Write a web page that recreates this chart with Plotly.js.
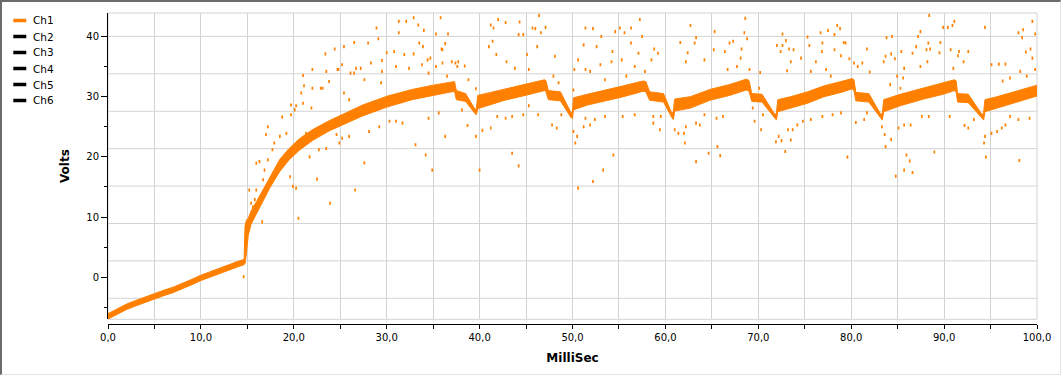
<!DOCTYPE html>
<html>
<head>
<meta charset="utf-8">
<script src="https://cdn.plot.ly/plotly-3.0.1.min.js"></script>
<style>
html,body{margin:0;padding:0;background:#fff;}
#wrap{position:relative;width:1063px;height:377px;overflow:hidden;}
#chart{width:1063px;height:377px;}
#frame{position:absolute;left:0;top:0;width:1061px;height:375px;box-sizing:border-box;
  border-top:2px solid #6b6b6b;border-left:2px solid #6b6b6b;
  border-right:1px solid #e2e2e2;border-bottom:1px solid #e2e2e2;pointer-events:none;}
</style>
</head>
<body>
<div id="wrap"><div id="chart"></div><div id="frame"></div></div>
<script>
// ---- legend entries ----
const channels = ['Ch1', 'Ch2', 'Ch3', 'Ch4', 'Ch5', 'Ch6'];

// ---- axis ticks ----
const xTicks = [0, 10, 20, 30, 40, 50, 60, 70, 80, 90, 100];
const yTicks = [0, 10, 20, 30, 40];

// ---- Ch1 dense trace: lower / upper envelope of the sample band (ms, Volts) ----
const bandMs = [0, 1, 2, 3, 4, 5, 6, 7, 8, 9, 10, 11, 12, 13, 14, 14.6, 14.65, 14.75, 14.9, 15.1, 15.4, 16.0, 16.7, 17.4, 18.5, 19.5, 20.6, 22.0, 23.8, 25.6, 27.4, 30.1, 32.75, 35.0, 37.0, 37.3,
  37.5, 38.5, 39.5, 39.65, 39.8, 40.9, 42.7, 44.9, 47.0, 47.15,
  47.4, 48.7, 49.85, 50.0, 50.1, 51.6, 53.4, 55.5, 57.6, 57.9,
  58.3, 59.8, 60.7, 60.85, 61.0, 62.7, 64.8, 66.9, 68.7, 69.0,
  69.3, 70.4, 71.8, 71.95, 72.1, 73.5, 75.3, 77.1, 78.9, 80.1, 80.3,
  80.5, 81.9, 83.2, 83.35, 83.5, 85.3, 87.8, 89.9, 91.1, 91.3,
  91.45, 92.6, 94.1, 94.25, 94.4, 95.5, 97.6, 100.0];
const bandLow = [-6.95, -6.15, -5.35, -4.75, -4.15, -3.65, -3.05, -2.55, -1.95, -1.25, -0.55, 0.05, 0.65, 1.15, 1.75, 2.05, 2.1, 2.3, 4.0, 7.0, 8.8, 10.6, 12.7, 14.8, 17.6, 19.5, 21.1, 22.7, 24.3, 25.5, 26.8, 28.3, 29.5, 30.2, 30.9, 30.9,
  29.5, 29.2, 27.2, 27.0, 28.0, 28.5, 29.4, 30.2, 31.0, 30.8,
  29.5, 29.3, 26.5, 26.4, 27.8, 28.6, 29.2, 30.0, 30.9, 30.8,
  29.4, 29.1, 26.5, 26.2, 27.6, 28.1, 29.4, 30.2, 31.1, 30.9,
  29.2, 29.1, 26.4, 26.1, 27.5, 28.1, 28.9, 30.0, 30.7, 31.3, 31.0,
  29.3, 29.1, 26.4, 26.1, 27.5, 28.5, 29.6, 30.4, 31.0, 30.8,
  29.1, 29.0, 26.4, 26.1, 27.5, 28.0, 29.0, 30.1];
const bandHigh = [-6.05, -5.25, -4.45, -3.85, -3.25, -2.75, -2.15, -1.65, -1.05, -0.35, 0.35, 0.95, 1.55, 2.05, 2.65, 2.95, 3.0, 8.5, 9.5, 9.8, 11.0, 12.6, 14.6, 16.7, 19.6, 21.4, 23.0, 24.5, 26.0, 27.3, 28.6, 30.1, 31.2, 31.9, 32.5, 32.5,
  31.0, 30.5, 27.9, 28.0, 30.2, 30.6, 31.2, 32.0, 32.8, 32.6,
  31.0, 30.8, 27.3, 27.6, 29.8, 30.4, 31.0, 31.8, 32.6, 32.5,
  30.8, 30.5, 27.2, 27.5, 29.6, 30.0, 31.2, 32.0, 32.9, 32.7,
  30.5, 30.4, 27.0, 27.3, 29.5, 30.0, 30.8, 31.8, 32.5, 33.0, 32.8,
  30.7, 30.5, 27.0, 27.3, 29.5, 30.4, 31.4, 32.2, 32.8, 32.6,
  30.5, 30.4, 27.0, 27.3, 29.5, 29.9, 30.8, 31.9];

// ---- Ch1 scattered samples away from the band (ms, Volts) ----
const outMs = [14.6, 15.2, 15.4, 15.6, 15.8, 15.96, 15.96, 15.96, 16.3, 16.6, 16.7, 16.85, 17.2, 17.2, 17.0, 17.7, 17.9, 18.5, 18.75, 19.2, 19.6, 19.7, 19.9, 20.1, 20.25, 20.25, 20.5, 20.8, 21.0, 21.0, 21.3, 21.7, 21.9, 22.0, 22.5, 22.7, 22.9, 23.4, 23.5, 23.5, 23.8, 23.9, 24.4, 24.6, 24.7, 24.9, 25.2, 25.2, 25.4, 25.4, 25.96, 25.96, 26.5, 26.5, 26.6, 26.7, 27.2, 27.6, 27.6, 28.0, 28.1, 28.3, 28.9, 29.1, 29.2, 29.4, 29.5, 29.5, 30.0, 30.3, 30.8, 31.0, 31.0, 31.3, 31.3, 31.7, 31.9, 32.1, 32.4, 32.9, 32.9, 33.1, 33.4, 33.5, 33.8, 33.9, 34.0, 34.2, 34.4, 34.5, 34.5, 34.7, 34.9, 35.3, 35.3, 35.6, 35.8, 35.9, 36.0, 36.0, 36.3, 36.3, 36.5, 36.6, 37.0, 37.4, 37.6, 37.7, 38.1, 38.4, 38.7, 38.8, 39.6, 39.6, 40.0, 40.3,
  19.7, 21.1, 22.0, 23.1, 24.8, 26.1,
  41.2, 41.2, 41.5, 42.0, 42.8, 44.3, 41.4, 41.0, 41.8, 44.2, 44.7, 45.7, 46.0, 46.4, 47.1, 46.6, 46.2, 45.1, 42.9, 43.8, 45.3, 48.1, 47.95, 48.5, 43.5, 44.2, 43.5, 42.8, 41.9, 44.7, 46.3, 45.3, 47.8, 48.3, 48.8, 50.1, 50.3, 50.6, 50.5, 50.1, 50.2, 50.6, 51.2, 51.4, 52.2, 53.1, 52.6, 54.3, 54.6, 55.1, 55.6, 56.3, 57.25, 57.5, 56.3, 57.1, 58.8, 59.2, 58.5, 55.3, 54.2, 53.0, 51.4, 51.9, 56.7, 57.8, 55.8, 53.5, 51.4, 51.2, 51.9, 52.4, 53.5, 54.4, 53.3, 52.2, 55.4, 56.7, 58.7, 59.5, 58.7, 59.4, 61.0, 61.4, 62.0, 62.2, 62.1, 63.3, 63.7, 64.2, 65.5, 66.2, 65.6, 65.9, 64.65, 63.3, 61.6, 62.7, 63.3, 63.15, 62.4, 62.2, 64.2, 65.3, 65.2, 66.9, 67.3, 66.4, 68.5, 68.6, 68.8, 68.2, 68.1, 67.7, 66.7, 69.05, 70.2, 70.1, 69.4, 70.5, 69.6, 70.3,
  71.9, 72.2, 72.5, 72.9, 73.5, 73.2, 73.7, 74.2, 74.8, 75.65, 76.9, 78.0, 78.9, 79.6, 80.5, 81.4, 81.7, 72.6, 72.97, 72.6, 72.0, 72.4, 73.3, 73.5, 73.1, 73.8, 74.6, 75.3, 75.5, 76.7, 76.9, 76.85, 77.5, 78.2, 78.5, 78.8, 78.2, 79.2, 79.4, 78.9, 79.8, 80.3, 80.7, 81.2, 81.7, 82.0, 76.2, 75.65, 77.3, 77.8,
  83.5, 83.7, 83.8, 84.4, 84.3, 84.7, 85.4, 86.6, 87.0, 87.45, 87.2, 88.1, 88.3, 88.5, 88.4, 89.6, 89.5, 89.9, 90.4, 90.9, 91.1, 90.7, 91.6, 91.5, 92.6, 92.1, 91.0, 88.2, 87.45, 85.7, 84.95, 85.6, 84.2, 85.3,
  94.4, 95.1, 95.9, 96.6, 96.3, 97.1, 98.2, 98.8, 99.3, 99.5, 99.8, 98.5, 98.0, 99.5, 99.8, 98.4, 98.9,
  83.3, 83.6, 84.3, 83.7, 84.8, 85.95, 86.3, 85.7, 86.6, 85.1, 85.7, 86.4, 87.6, 88.35, 88.95, 90.6, 92.2, 92.6, 93.2, 94.3, 94.5, 94.4, 95.1, 95.7, 96.2, 96.6, 97.1, 98.0, 99.2, 98.1];
const outV = [0.1, 14.5, 12.3, 11.7, 12.9, 14.5, 18.95, 11.7, 19.2, 9.2, 16.2, 17.8, 19.5, 25.0, 23.7, 21.2, 22.3, 23.4, 26.6, 23.9, 16.7, 27.0, 15.1, 27.8, 28.5, 14.8, 9.8, 30.6, 28.9, 33.5, 23.9, 20.0, 28.1, 34.5, 16.3, 21.2, 31.4, 37.1, 21.4, 34.2, 32.5, 12.3, 37.9, 23.7, 34.5, 22.3, 35.3, 23.1, 30.6, 38.3, 29.5, 23.4, 33.9, 39.0, 14.5, 34.7, 34.7, 32.8, 19.0, 38.9, 24.2, 35.6, 41.4, 39.6, 25.0, 32.3, 34.2, 36.0, 37.3, 25.9, 37.5, 35.0, 25.9, 42.5, 40.6, 25.6, 37.0, 42.5, 34.7, 43.1, 37.1, 22.0, 41.9, 38.9, 35.3, 38.3, 41.0, 20.3, 36.1, 33.9, 26.4, 36.4, 17.8, 35.0, 40.4, 27.3, 43.1, 37.9, 37.8, 35.6, 38.8, 23.4, 33.4, 40.4, 35.8, 35.6, 35.0, 35.8, 27.8, 35.1, 25.2, 32.8, 31.3, 23.4, 17.8, 24.4,
  28.6, 31.8, 31.4, 31.4, 34.5, 33.9,
  24.8, 41.9, 41.4, 42.8, 42.3, 42.4, 39.2, 38.3, 37.0, 40.3, 40.3, 41.4, 41.3, 43.5, 41.5, 40.6, 38.3, 37.0, 35.8, 34.7, 34.5, 36.7, 33.4, 32.3, 20.6, 18.5, 26.7, 26.4, 26.7, 27.0, 27.0, 28.5, 25.3, 24.8, 27.0, 24.2, 22.3, 14.8, 23.4, 31.1, 34.5, 36.1, 38.6, 41.4, 41.3, 40.0, 38.3, 37.5, 40.8, 41.4, 40.6, 41.4, 42.8, 40.0, 38.9, 37.2, 37.9, 37.2, 36.1, 36.1, 35.8, 35.3, 34.5, 34.2, 35.0, 34.2, 33.4, 32.8, 26.4, 25.0, 25.3, 26.2, 26.7, 20.3, 17.8, 15.9, 26.7, 27.0, 26.7, 26.7, 25.6, 24.5, 24.5, 23.9, 23.9, 25.0, 22.3, 25.6, 25.3, 27.0, 26.4, 26.7, 21.7, 20.2, 20.6, 19.2, 39.0, 41.8, 39.8, 38.9, 37.3, 35.8, 36.1, 40.8, 37.8, 38.9, 39.2, 37.5, 40.6, 43.0, 39.6, 37.9, 36.4, 35.0, 34.5, 34.5, 34.0, 31.4, 28.1, 27.0, 25.9, 24.5,
  22.5, 23.4, 22.7, 20.9, 22.8, 24.5, 24.5, 25.3, 25.9, 26.2, 26.7, 27.0, 27.3, 19.95, 25.7, 26.2, 27.3, 40.4, 39.3, 38.5, 38.5, 37.5, 37.9, 35.8, 34.3, 37.8, 36.4, 39.9, 38.5, 40.6, 38.9, 37.5, 41.0, 40.3, 41.8, 41.3, 37.8, 39.0, 38.9, 36.8, 36.3, 35.6, 35.0, 35.6, 37.9, 34.1, 35.8, 34.2, 34.5, 33.4,
  35.8, 36.7, 39.8, 40.0, 37.1, 36.3, 37.5, 37.2, 38.3, 40.8, 40.0, 37.8, 38.9, 37.9, 43.5, 39.0, 37.3, 41.5, 41.5, 41.8, 42.5, 37.8, 37.5, 36.8, 37.5, 35.8, 34.7, 35.8, 35.0, 34.7, 33.4, 33.1, 32.0, 31.4,
  41.5, 35.3, 35.4, 35.4, 32.6, 33.1, 34.2, 37.4, 37.9, 36.4, 34.5, 41.1, 40.6, 42.5, 40.4, 39.8, 33.4,
  25.0, 23.7, 22.9, 21.7, 16.8, 20.3, 19.3, 17.8, 17.4, 24.8, 25.3, 25.3, 26.7, 26.7, 20.8, 26.7, 25.2, 24.8, 26.2, 22.3, 19.95, 23.4, 23.9, 24.2, 24.8, 25.3, 26.7, 26.2, 26.4, 19.4];

// ---- styling / geometry ----
const ORANGE = '#ff8000';
const GRID = '#d3d3d3';
const W = 1063, H = 377;
const M = {l: 108, r: 23, t: 13, b: 53};
const plotW = W - M.l - M.r, plotH = H - M.t - M.b;
const yDom0 = 4.7 / plotH;               // x axis sits a few px below the plot area
const yRange = [-6.98, 43.89];
const px = x => (x - M.l) / plotW;       // page px -> paper x
const py = y => (H - M.b - y) / plotH;   // page px -> paper y

const traces = [
  {x: bandMs, y: bandLow, type: 'scatter', mode: 'lines',
   line: {color: ORANGE, width: 1}, hoverinfo: 'skip', showlegend: false},
  {x: bandMs, y: bandHigh, type: 'scatter', mode: 'lines', fill: 'tonexty',
   fillcolor: ORANGE, line: {color: ORANGE, width: 1}, hoverinfo: 'skip', showlegend: false},
  {x: outMs, y: outV, type: 'scatter', mode: 'markers', showlegend: false,
   marker: {symbol: 'line-ns', size: 2.2, color: ORANGE, line: {color: ORANGE, width: 1.7}}}
];

const shapes = [
  {type: 'rect', xref: 'paper', yref: 'paper', x0: 0, x1: 1, y0: yDom0, y1: 1,
   line: {color: GRID, width: 1}, layer: 'below'}
];
// horizontal grid of the original is independent of the tick spacing
for (let k = 0; k < 8; k++) {
  const g = 40 - k * 6.213;
  shapes.push({type: 'line', xref: 'paper', yref: 'y', x0: 0, x1: 1, y0: g, y1: g,
    line: {color: GRID, width: 1}, layer: 'below'});
}
const annotations = [];
channels.forEach((name, i) => {
  const yc = 20.5 + 16 * i;
  shapes.push({type: 'line', xref: 'paper', yref: 'paper',
    x0: px(13), x1: px(26), y0: py(yc), y1: py(yc),
    line: {color: i === 0 ? ORANGE : '#000000', width: 3.5}});
  annotations.push({xref: 'paper', yref: 'paper', x: px(31), y: py(yc),
    xanchor: 'left', yanchor: 'middle', showarrow: false, text: name,
    font: {family: 'DejaVu Sans, sans-serif', size: 10.5, color: '#000'}});
});

const tickFont = {family: 'DejaVu Sans, sans-serif', size: 10, color: '#000'};
const titleFont = {family: 'DejaVu Sans, sans-serif', size: 12, color: '#000', weight: 'bold'};

const layout = {
  width: W, height: H,
  margin: M,
  paper_bgcolor: '#ffffff', plot_bgcolor: '#ffffff',
  separators: ', ',
  showlegend: false,
  xaxis: {
    range: [0, 100], anchor: 'free', position: 0,
    tickmode: 'array', tickvals: xTicks, tickformat: '.1f',
    ticks: 'outside', ticklen: 4, tickcolor: '#000', tickwidth: 1,
    tickfont: tickFont,
    showline: true, linecolor: '#000', linewidth: 1,
    showgrid: true, gridcolor: GRID, gridwidth: 1, zeroline: false,
    minor: {dtick: 5, tick0: 0, ticks: 'outside', ticklen: 4, tickcolor: '#000',
            showgrid: true, gridcolor: GRID, gridwidth: 1},
    title: {text: 'MilliSec', font: titleFont, standoff: 11},
    automargin: true
  },
  yaxis: {
    range: yRange, domain: [yDom0, 1],
    tickmode: 'array', tickvals: yTicks, tickformat: '.0f',
    ticks: 'outside', ticklen: 6, tickcolor: '#000', tickwidth: 1,
    tickfont: tickFont,
    showline: true, linecolor: '#000', linewidth: 1,
    showgrid: false, zeroline: false,
    minor: {dtick: 5, tick0: 0, ticks: 'outside', ticklen: 3, tickcolor: '#000', showgrid: false},
    title: {text: 'Volts', font: titleFont, standoff: 14},
    automargin: true
  },
  shapes: shapes,
  annotations: annotations
};

Plotly.newPlot('chart', traces, layout, {staticPlot: true, displayModeBar: false});
</script>
</body>
</html>
